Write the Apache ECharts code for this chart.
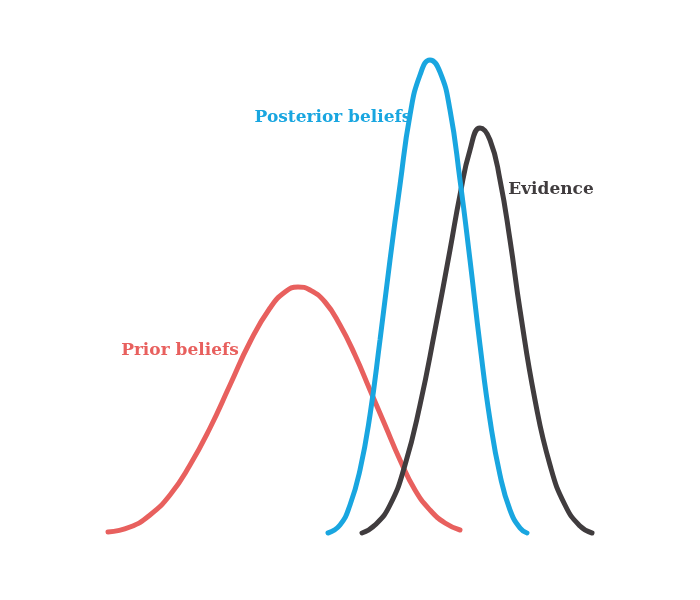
<!DOCTYPE html>
<html>
<head>
<meta charset="utf-8">
<script src="https://cdn.jsdelivr.net/npm/echarts@6/dist/echarts.min.js"></script>
<style>html,body{margin:0;background:#fff}#chart{width:700px;height:600px}</style>
</head>
<body>
<div id="chart"></div>
<script>
// curves: [x, height above the canvas bottom]
const prior = [[108,68],[130,73],[150,85],[170,105],[190,135],[210,172],[230,215],[250,258],[270,292],[285,308],[298,313],[310,310],[325,298],[340,275],[355,245],[370,210],[385,175],[400,140],[415,110],[430,90],[445,77],[460,70]]
const posterior = [[328,67],[340,75],[350,95],[360,130],[370,185],[380,260],[390,340],[400,415],[410,485],[420,525],[430,540],[440,528],[450,490],[460,420],[470,340],[480,255],[490,180],[500,125],[510,90],[520,72],[527,67]]
const evidence = [[362,67],[375,75],[390,95],[405,135],[420,195],[435,270],[450,350],[460,405],[470,450],[480,472],[490,460],[500,420],[510,360],[520,290],[535,200],[550,135],[565,95],[580,74],[592,67]]

const labels = [
  { text: 'Posterior beliefs', x: 333, y: 118, color: '#19a6e0' },
  { text: 'Evidence', x: 551, y: 190, color: '#403c3e' },
  { text: 'Prior beliefs', x: 180, y: 351, color: '#e8605e' },
]

const chart = echarts.init(document.getElementById('chart'))
const line = (data, color) => ({
  type: 'line', data, showSymbol: false, smooth: 0.5, silent: true,
  lineStyle: { color, width: 5, cap: 'round' },
})
chart.setOption({
  animation: false,
  grid: { left: 0, right: 0, top: 0, bottom: 0 },
  xAxis: { type: 'value', min: 0, max: 700, show: false },
  yAxis: { type: 'value', min: 0, max: 600, show: false },
  series: [
    line(prior, '#e8605e'),
    line(evidence, '#403c3e'),
    line(posterior, '#19a6e0'),
  ],
  graphic: labels.map(l => ({
    type: 'text', x: l.x, y: l.y,
    style: {
      text: l.text, fill: l.color, align: 'center', verticalAlign: 'middle',
      font: 'bold 17px "DejaVu Serif"',
    },
  })),
})
</script>
</body>
</html>
